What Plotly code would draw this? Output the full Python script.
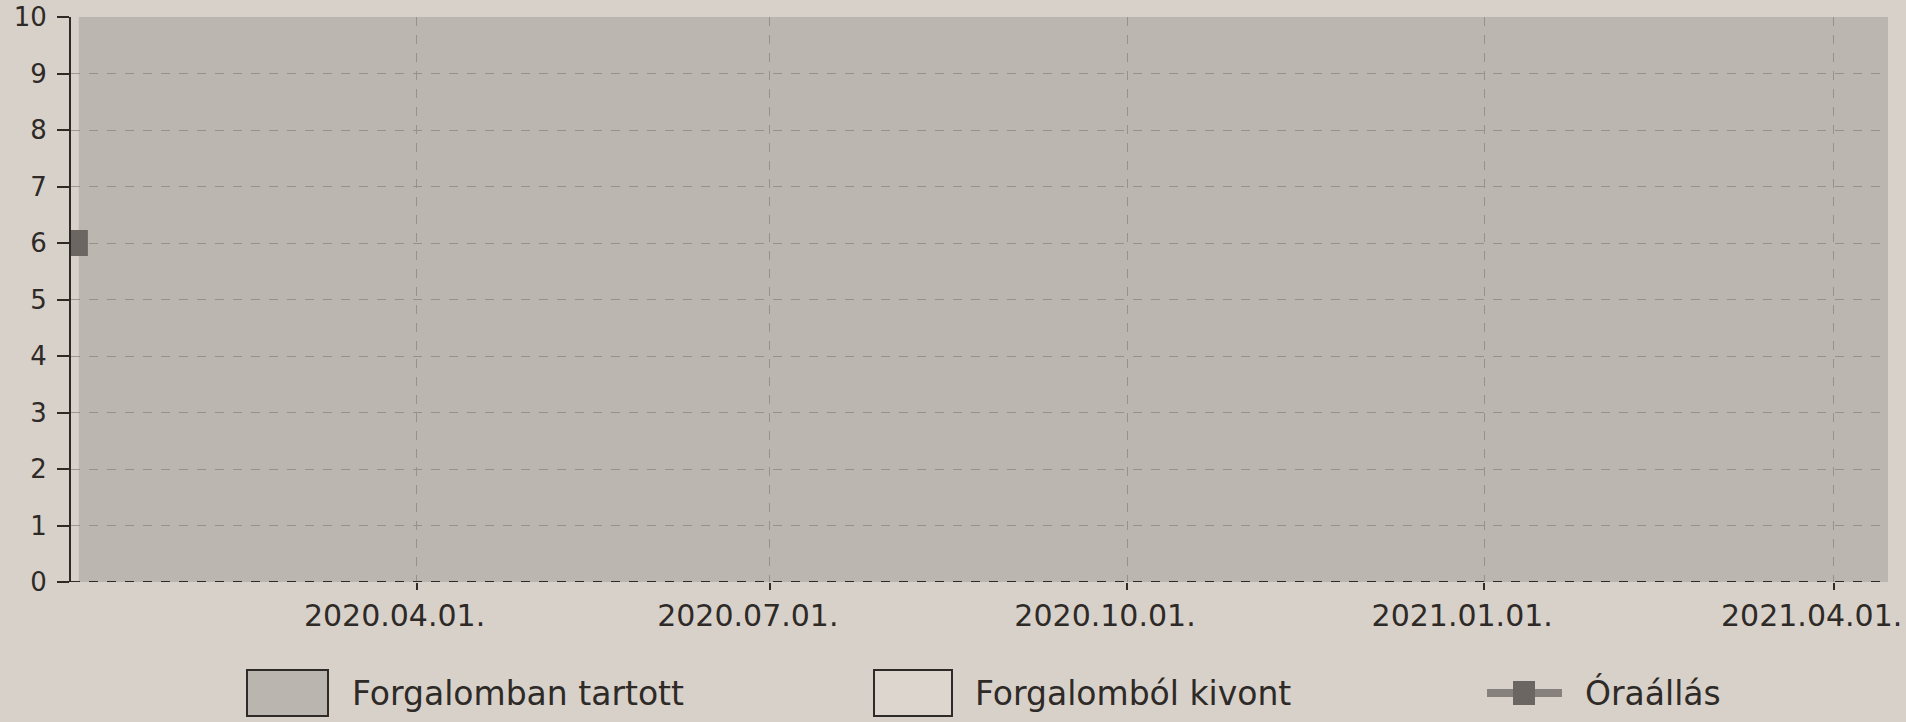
import plotly.graph_objects as go

# ---- data ----
status_dates = ["2020-01-05", "2021-04-15"]
in_circulation = [10, 10]
withdrawn_dates = []
withdrawn = []
reading_dates = ["2020-01-04"]
readings = [6]
tick_dates = ["2020-04-01", "2020-07-01", "2020-10-01", "2021-01-01", "2021-04-01"]
tick_labels = ["2020.04.01.", "2020.07.01.", "2020.10.01.", "2021.01.01.", "2021.04.01."]
y_ticks = list(range(0, 11))
x_range = ["2020-01-03", "2021-04-15"]
legend_names = ["Forgalomban tartott", "Forgalomból kivont", "Óraállás"]

# ---- style ----
W, H = 1906, 722
ML, MR, MT, MB = 71, 18, 17, 140
PAPER = "#d8d1c9"
FILL = "rgba(136,131,129,0.35)"
FILL_SOLID = "#bbb5af"
GRID = "#9d9892"
INK = "#2e2a27"
FONT = "DejaVu Sans"

PW, PH = W - ML - MR, H - MT - MB


def px(x):
    return (x - ML) / PW


def py(y):
    return (H - MB - y) / PH


fig = go.Figure()
fig.add_trace(go.Scatter(
    x=status_dates, y=in_circulation, name=legend_names[0],
    mode="lines", fill="tozeroy", fillcolor=FILL,
    line=dict(color=INK, width=0), hoverinfo="skip", showlegend=False))
fig.add_trace(go.Scatter(
    x=withdrawn_dates, y=withdrawn, name=legend_names[1],
    mode="lines", fill="tozeroy", fillcolor="#e4ded8",
    line=dict(color=INK, width=1), showlegend=False))
fig.add_trace(go.Scatter(
    x=reading_dates, y=readings, name=legend_names[2],
    mode="lines+markers",
    line=dict(color="#86817c", width=8),
    marker=dict(symbol="square", size=26, color="#6b6661"),
    showlegend=False))

# dashed baseline at y = 0
fig.add_shape(type="line", xref="paper", yref="y", x0=0, x1=1, y0=0, y1=0,
              line=dict(color=INK, width=2, dash="dash"), layer="above")

# ---- legend (drawn below the plot) ----
LY = 693
box_h = 46
legend_shapes = [
    dict(type="rect", x0=px(247), x1=px(328), y0=py(LY + box_h / 2), y1=py(LY - box_h / 2),
         fillcolor=FILL_SOLID, line=dict(color=INK, width=2)),
    dict(type="rect", x0=px(874), x1=px(952), y0=py(LY + box_h / 2), y1=py(LY - box_h / 2),
         fillcolor="#dcd6cf", line=dict(color=INK, width=2)),
    dict(type="line", x0=px(1487), x1=px(1562), y0=py(LY), y1=py(LY),
         line=dict(color="#86817c", width=8)),
    dict(type="rect", x0=px(1513), x1=px(1535), y0=py(LY + 12), y1=py(LY - 12),
         fillcolor="#6b6661", line=dict(width=0)),
]
for s in legend_shapes:
    fig.add_shape(xref="paper", yref="paper", layer="above", **s)

for name, xt in zip(legend_names, [350, 973, 1583]):
    fig.add_annotation(text=name, xref="paper", yref="paper", x=px(xt), y=py(LY),
                       xanchor="left", yanchor="middle", showarrow=False,
                       font=dict(size=33, family=FONT, color=INK))

fig.update_layout(
    width=W, height=H,
    margin=dict(l=ML, r=MR, t=MT, b=MB, autoexpand=False),
    paper_bgcolor=PAPER, plot_bgcolor=PAPER,
    font=dict(family=FONT, color=INK),
    showlegend=False,
)
fig.update_xaxes(
    range=x_range, type="date", automargin=False,
    tickvals=tick_dates, ticktext=tick_labels,
    tickfont=dict(size=30, family=FONT, color=INK),
    ticklabelshift=-22, ticklabelstandoff=0,
    showgrid=True, gridcolor=GRID, griddash="dash", gridwidth=1,
    ticks="outside", ticklen=7, tickcolor=INK, tickwidth=2,
    showline=False, zeroline=False)
fig.update_yaxes(
    range=[0, 10], tickvals=y_ticks, automargin=False,
    tickfont=dict(size=26, family=FONT, color=INK),
    ticklabelstandoff=5,
    showgrid=True, gridcolor=GRID, griddash="dash", gridwidth=1,
    ticks="outside", ticklen=12, tickcolor=INK, tickwidth=2,
    showline=True, linecolor=INK, linewidth=2,
    zeroline=False)

fig.write_html("out.html", config={"displayModeBar": False},
               post_script="document.body.style.margin='0';document.body.style.background='%s';" % PAPER)
